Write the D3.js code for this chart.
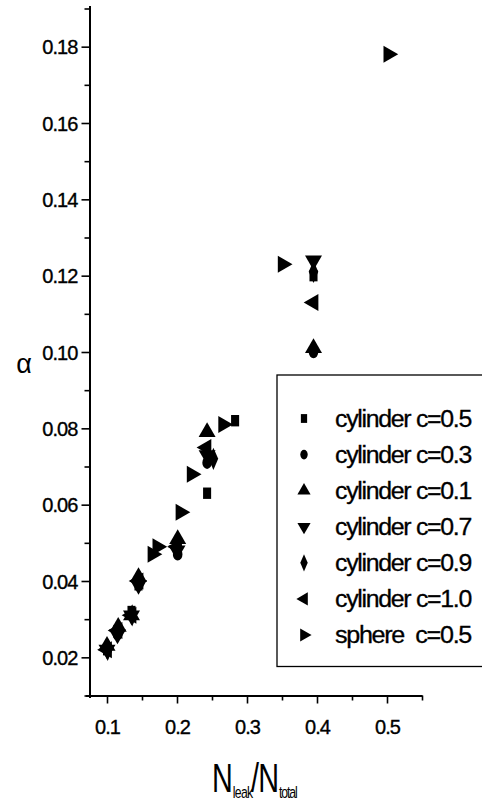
<!DOCTYPE html>
<html><head><meta charset="utf-8">
<script src="https://cdn.jsdelivr.net/npm/d3@7/dist/d3.min.js"></script>
<style>
html,body{margin:0;padding:0;background:#fff;}
svg{display:block;font-family:"Liberation Sans",Arial,sans-serif;}
</style></head>
<body>
<svg id="chart" width="482" height="802"></svg>
<script>
// ---- data ----
const seriesNames = ["cylinder c=0.5","cylinder c=0.3","cylinder c=0.1","cylinder c=0.7","cylinder c=0.9","cylinder c=1.0","sphere  c=0.5"];
const seriesShapes = ["square","circle","up","down","diamond","left","right"];
const cyl05 = [[0.100,0.022],[0.115,0.027],[0.135,0.032],[0.145,0.039],[0.200,0.048],[0.243,0.063],[0.283,0.082],[0.395,0.120]];
const cyl03 = [[0.100,0.022],[0.115,0.026],[0.135,0.031],[0.145,0.040],[0.201,0.047],[0.243,0.071],[0.395,0.100]];
const cyl01 = [[0.100,0.023],[0.116,0.028],[0.135,0.031],[0.145,0.041],[0.201,0.051],[0.243,0.079],[0.395,0.101]];
const cyl07 = [[0.100,0.022],[0.115,0.026],[0.135,0.031],[0.145,0.039],[0.200,0.048],[0.243,0.073],[0.395,0.124]];
const cyl09 = [[0.101,0.022],[0.116,0.027],[0.136,0.031],[0.146,0.040],[0.201,0.049],[0.252,0.072],[0.395,0.121]];
const cyl10 = [[0.100,0.022],[0.115,0.027],[0.135,0.031],[0.145,0.040],[0.200,0.049],[0.242,0.075],[0.395,0.113]];
const sphere05 = [[0.165,0.047],[0.172,0.049],[0.205,0.058],[0.221,0.068],[0.266,0.081],[0.351,0.123],[0.502,0.178]];
const seriesData = [cyl05,cyl03,cyl01,cyl07,cyl09,cyl10,sphere05];
const xMajor = [0.1,0.2,0.3,0.4,0.5];
const xMinor = [0.15,0.25,0.35,0.45,0.55];
const yMajor = [0.02,0.04,0.06,0.08,0.10,0.12,0.14,0.16,0.18];
const yMinor = [0.01,0.03,0.05,0.07,0.09,0.11,0.13,0.15,0.17,0.19];

// ---- drawing ----
const svg = d3.select("#chart");
const x = d3.scaleLinear().domain([0.075,0.55]).range([89.5,422]);
const y = d3.scaleLinear().domain([0.01,0.19]).range([695.5,8.5]);
const FONT = '"Liberation Sans",Arial,sans-serif';

function axisStyle(g){
  g.select(".domain").attr("stroke","#000").attr("stroke-width",2);
  g.selectAll(".tick line").attr("stroke","#000").attr("stroke-width",1.6);
}
svg.append("g").attr("transform","translate(0,695.5)")
  .call(d3.axisBottom(x).tickValues(xMinor).tickSize(5).tickFormat("").tickSizeOuter(0))
  .call(axisStyle);
const gx = svg.append("g").attr("transform","translate(0,695.5)")
  .call(d3.axisBottom(x).tickValues(xMajor).tickSize(8).tickPadding(16).tickFormat(d3.format(".1f")).tickSizeOuter(0))
  .call(axisStyle);
gx.select(".domain").attr("d","M86,0.5H422");
gx.selectAll(".tick text").attr("font-family",FONT).attr("font-size",20).attr("letter-spacing",-0.9)
  .attr("fill","#000").attr("stroke","#000").attr("stroke-width",0.35);

svg.append("g").attr("transform","translate(89.5,0)")
  .call(d3.axisLeft(y).tickValues(yMinor).tickSize(5).tickFormat("").tickSizeOuter(0))
  .call(axisStyle);
const gy = svg.append("g").attr("transform","translate(89.5,0)")
  .call(d3.axisLeft(y).tickValues(yMajor).tickSize(8).tickPadding(4).tickFormat(d3.format(".2f")).tickSizeOuter(0))
  .call(axisStyle);
gy.select(".domain").attr("d","M0.5,6V698");
gy.selectAll(".tick text").attr("font-family",FONT).attr("font-size",20).attr("letter-spacing",-0.9)
  .attr("fill","#000").attr("stroke","#000").attr("stroke-width",0.35).attr("dy","0.36em");

function shapePath(shape, size){
  const map = {square:d3.symbolSquare, circle:d3.symbolCircle, up:d3.symbolTriangle, down:d3.symbolTriangle,
    left:d3.symbolTriangle, right:d3.symbolTriangle, diamond:d3.symbolDiamond};
  return d3.symbol().type(map[shape]).size(size)();
}
const rot = {square:0,circle:0,up:0,down:180,left:-90,right:90,diamond:0};
const scl = {square:[0.85,1.2],circle:[0.85,1.1],up:[1,1],down:[1,1],left:[1,1],right:[1,1],diamond:[0.85,1.15]};
const sizeData = {square:90,circle:100,up:125,down:125,left:125,right:125,diamond:110};

seriesData.forEach((pts,i)=>{
  const sh = seriesShapes[i];
  svg.append("g").selectAll("path").data(pts).enter().append("path")
    .attr("d",shapePath(sh,sizeData[sh]))
    .attr("transform",d=>`translate(${x(d[0])},${y(d[1])}) rotate(${rot[sh]}) scale(${scl[sh][0]},${scl[sh][1]})`)
    .attr("fill","#000");
});

// legend
const lg = svg.append("g");
lg.append("rect").attr("x",277).attr("y",375).attr("width",230).attr("height",291.5)
  .attr("fill","none").attr("stroke","#000").attr("stroke-width",1.3);
const rowY = d3.scaleLinear().domain([0,6]).range([418.5,635]);
seriesNames.forEach((name,i)=>{
  const sh = seriesShapes[i];
  lg.append("path").attr("d",shapePath(sh,sizeData[sh]*0.6))
    .attr("transform",`translate(304,${rowY(i)}) rotate(${rot[sh]}) scale(${scl[sh][0]},${scl[sh][1]})`)
    .attr("fill","#000");
  lg.append("text").attr("x",335).attr("y",rowY(i)).attr("dy","0.36em")
    .attr("font-family",FONT).attr("font-size",23).attr("letter-spacing",-1.2)
    .attr("textLength",136).attr("lengthAdjust","spacingAndGlyphs")
    .attr("stroke","#000").attr("stroke-width",0.3)
    .style("white-space","pre").attr("fill","#000").text(name);
});

// axis titles
svg.append("text").attr("x",24).attr("y",373).attr("text-anchor","middle")
  .attr("font-family",FONT).attr("font-size",27).attr("fill","#000").text("α");
const sx = 0.72;
const xt = svg.append("text").attr("transform",`translate(212,792) scale(${sx},1)`)
  .attr("font-family",FONT).attr("fill","#000").attr("x",0).attr("y",0);
xt.append("tspan").attr("font-size",40).text("N");
xt.append("tspan").attr("font-size",17).attr("dy",6).attr("letter-spacing",-1).text("leak");
xt.append("tspan").attr("font-size",40).attr("dy",-6).attr("dx",-2).text("/");
xt.append("tspan").attr("font-size",40).attr("dx",-1).text("N");
xt.append("tspan").attr("font-size",17).attr("dy",6).attr("letter-spacing",-1.5).text("total");
</script>
</body></html>
